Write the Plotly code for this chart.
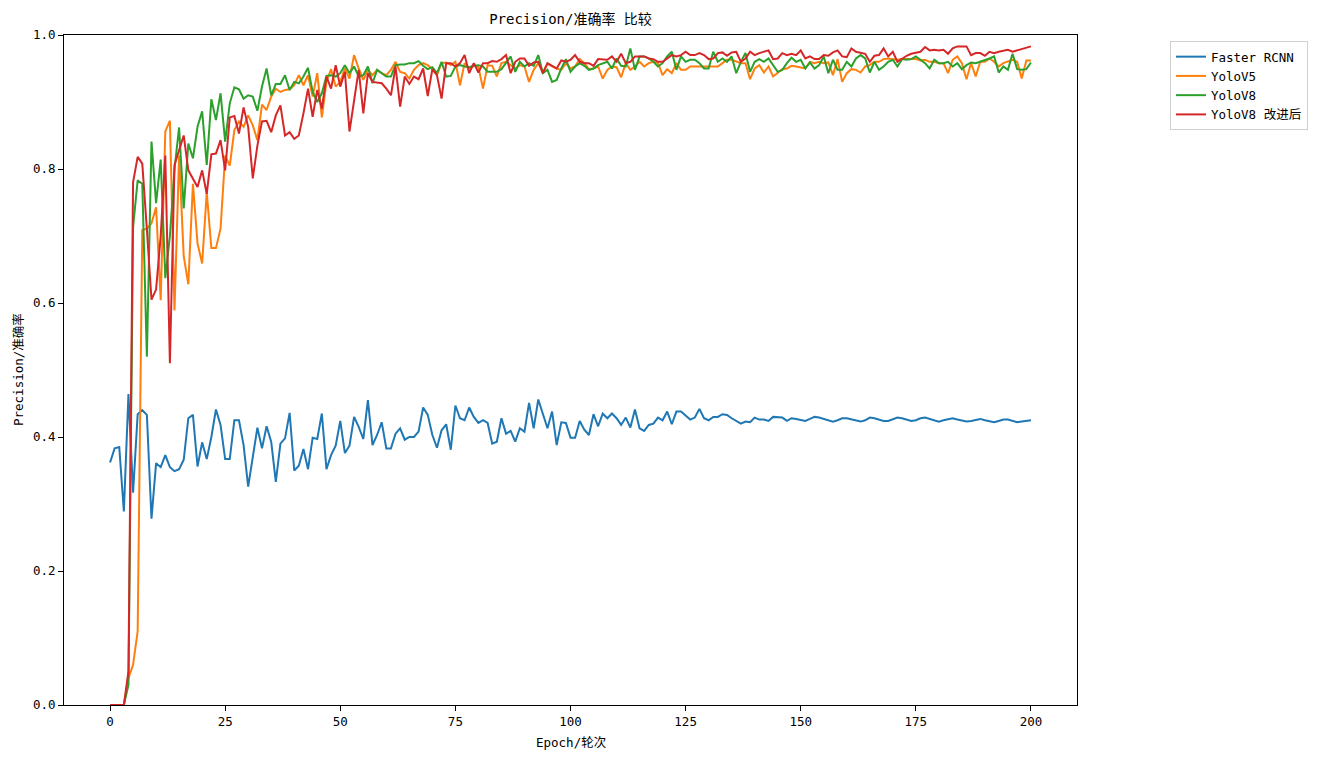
import plotly.graph_objects as go

epochs = list(range(201))

faster_rcnn = [
    0.362, 0.383, 0.385, 0.289, 0.464, 0.317, 0.434, 0.440, 0.433, 0.278,
    0.361, 0.355, 0.373, 0.355, 0.349, 0.352, 0.366, 0.428, 0.433, 0.356,
    0.392, 0.367, 0.400, 0.441, 0.418, 0.367, 0.367, 0.425, 0.425, 0.388,
    0.326, 0.370, 0.414, 0.383, 0.416, 0.393, 0.333, 0.390, 0.398, 0.436,
    0.350, 0.357, 0.382, 0.352, 0.399, 0.397, 0.435, 0.352, 0.373, 0.387,
    0.424, 0.376, 0.387, 0.430, 0.415, 0.397, 0.455, 0.388, 0.403, 0.422,
    0.383, 0.383, 0.405, 0.413, 0.396, 0.400, 0.400, 0.408, 0.444, 0.433,
    0.403, 0.384, 0.410, 0.419, 0.381, 0.447, 0.428, 0.425, 0.444, 0.430,
    0.421, 0.425, 0.421, 0.390, 0.393, 0.428, 0.405, 0.409, 0.393, 0.413,
    0.408, 0.451, 0.413, 0.456, 0.433, 0.413, 0.438, 0.388, 0.422, 0.421,
    0.399, 0.399, 0.424, 0.411, 0.403, 0.434, 0.416, 0.435, 0.428, 0.435,
    0.428, 0.418, 0.429, 0.414, 0.441, 0.413, 0.409, 0.418, 0.420, 0.429,
    0.425, 0.438, 0.419, 0.438, 0.438, 0.432, 0.426, 0.429, 0.442, 0.428,
    0.425, 0.430, 0.430, 0.434, 0.433, 0.428, 0.424, 0.420, 0.423, 0.422,
    0.429, 0.426, 0.426, 0.424, 0.430, 0.429, 0.429, 0.424, 0.428, 0.427,
    0.426, 0.424, 0.427, 0.430, 0.429, 0.427, 0.425, 0.423, 0.425, 0.428,
    0.428, 0.426, 0.424, 0.423, 0.425, 0.429, 0.428, 0.426, 0.424, 0.424,
    0.427, 0.429, 0.428, 0.426, 0.424, 0.425, 0.428, 0.429, 0.427, 0.425,
    0.423, 0.425, 0.427, 0.428, 0.426, 0.424, 0.423, 0.424, 0.426, 0.427,
    0.425, 0.423, 0.422, 0.424, 0.426, 0.426, 0.424, 0.422, 0.423, 0.424,
    0.425,
]

yolov5 = [
    0.0, 0.0, 0.0, 0.0, 0.04, 0.06, 0.11, 0.709, 0.711, 0.719,
    0.743, 0.604, 0.856, 0.872, 0.589, 0.82, 0.67, 0.628, 0.778, 0.689,
    0.659, 0.765, 0.682, 0.682, 0.711, 0.82, 0.805, 0.858, 0.871, 0.863,
    0.880, 0.865, 0.843, 0.896, 0.888, 0.908, 0.920, 0.915, 0.918, 0.919,
    0.925, 0.940, 0.925, 0.940, 0.908, 0.943, 0.877, 0.930, 0.949, 0.923,
    0.930, 0.950, 0.935, 0.970, 0.950, 0.933, 0.948, 0.940, 0.948, 0.943,
    0.940, 0.948, 0.960, 0.945, 0.943, 0.935, 0.948, 0.955, 0.958, 0.955,
    0.949, 0.940, 0.958, 0.959, 0.955, 0.960, 0.925, 0.958, 0.950, 0.954,
    0.952, 0.920, 0.955, 0.954, 0.938, 0.958, 0.960, 0.955, 0.950, 0.955,
    0.953, 0.930, 0.948, 0.958, 0.944, 0.957, 0.953, 0.950, 0.948, 0.958,
    0.950, 0.953, 0.964, 0.958, 0.949, 0.950, 0.953, 0.935, 0.948, 0.953,
    0.952, 0.937, 0.958, 0.948, 0.953, 0.960, 0.953, 0.958, 0.960, 0.958,
    0.940, 0.949, 0.943, 0.958, 0.948, 0.948, 0.953, 0.953, 0.952, 0.952,
    0.953, 0.953, 0.953, 0.958, 0.963, 0.963, 0.960, 0.958, 0.958, 0.934,
    0.950, 0.955, 0.944, 0.953, 0.938, 0.944, 0.949, 0.950, 0.954, 0.953,
    0.952, 0.950, 0.960, 0.958, 0.960, 0.958, 0.959, 0.940, 0.964, 0.930,
    0.943, 0.949, 0.948, 0.944, 0.953, 0.955, 0.960, 0.960, 0.964, 0.965,
    0.964, 0.963, 0.964, 0.964, 0.963, 0.964, 0.962, 0.963, 0.960, 0.960,
    0.958, 0.958, 0.943, 0.963, 0.968, 0.958, 0.934, 0.958, 0.938, 0.960,
    0.960, 0.965, 0.960, 0.953, 0.958, 0.960, 0.963, 0.960, 0.935, 0.962,
    0.962,
]

yolov8 = [
    0.0, 0.0, 0.0, 0.0, 0.03, 0.713, 0.783, 0.778, 0.52, 0.841,
    0.749, 0.814, 0.637, 0.70, 0.80, 0.862, 0.741, 0.838, 0.816, 0.863,
    0.886, 0.806, 0.904, 0.873, 0.913, 0.841, 0.898, 0.922, 0.919, 0.905,
    0.910, 0.908, 0.887, 0.923, 0.950, 0.910, 0.927, 0.927, 0.940, 0.918,
    0.930, 0.928, 0.938, 0.951, 0.915, 0.900, 0.913, 0.939, 0.940, 0.938,
    0.943, 0.955, 0.943, 0.953, 0.938, 0.940, 0.953, 0.928, 0.948, 0.943,
    0.938, 0.938, 0.955, 0.956, 0.956, 0.958, 0.958, 0.961, 0.954, 0.949,
    0.952, 0.943, 0.960, 0.938, 0.939, 0.953, 0.955, 0.953, 0.952, 0.954,
    0.955, 0.953, 0.945, 0.945, 0.945, 0.949, 0.958, 0.968, 0.945, 0.960,
    0.953, 0.958, 0.954, 0.970, 0.943, 0.948, 0.930, 0.933, 0.950, 0.964,
    0.945, 0.953, 0.958, 0.954, 0.948, 0.950, 0.955, 0.958, 0.960, 0.950,
    0.965, 0.954, 0.953, 0.980, 0.948, 0.968, 0.968, 0.965, 0.960, 0.953,
    0.958, 0.968, 0.975, 0.948, 0.968, 0.960, 0.963, 0.963, 0.958, 0.950,
    0.950, 0.975, 0.960, 0.965, 0.960, 0.968, 0.943, 0.960, 0.973, 0.945,
    0.960, 0.964, 0.960, 0.965, 0.955, 0.945, 0.948, 0.958, 0.966, 0.960,
    0.963, 0.950, 0.959, 0.950, 0.955, 0.968, 0.943, 0.963, 0.948, 0.948,
    0.960, 0.953, 0.965, 0.970, 0.965, 0.944, 0.960, 0.948, 0.953, 0.960,
    0.963, 0.953, 0.964, 0.963, 0.964, 0.968, 0.963, 0.958, 0.950, 0.963,
    0.958, 0.958, 0.960, 0.953, 0.958, 0.949, 0.955, 0.959, 0.958, 0.960,
    0.962, 0.965, 0.968, 0.944, 0.953, 0.948, 0.972, 0.949, 0.948, 0.949,
    0.959,
]

yolov8_improved = [
    0.0, 0.0, 0.0, 0.0, 0.05, 0.78, 0.818, 0.808, 0.71, 0.605,
    0.62, 0.70, 0.82, 0.51, 0.806, 0.83, 0.85, 0.798, 0.786, 0.773,
    0.798, 0.763, 0.822, 0.823, 0.843, 0.798, 0.877, 0.879, 0.853, 0.892,
    0.863, 0.786, 0.835, 0.871, 0.872, 0.855, 0.880, 0.895, 0.850, 0.855,
    0.845, 0.850, 0.883, 0.920, 0.878, 0.918, 0.890, 0.938, 0.920, 0.955,
    0.923, 0.945, 0.856, 0.903, 0.948, 0.883, 0.943, 0.930, 0.929, 0.928,
    0.920, 0.910, 0.953, 0.893, 0.938, 0.927, 0.938, 0.934, 0.950, 0.909,
    0.949, 0.940, 0.905, 0.958, 0.958, 0.953, 0.958, 0.970, 0.943, 0.958,
    0.944, 0.958, 0.958, 0.961, 0.960, 0.964, 0.970, 0.943, 0.960, 0.965,
    0.965, 0.954, 0.959, 0.960, 0.943, 0.958, 0.954, 0.950, 0.962, 0.960,
    0.963, 0.970, 0.960, 0.958, 0.958, 0.954, 0.964, 0.964, 0.963, 0.968,
    0.960, 0.972, 0.958, 0.960, 0.968, 0.968, 0.968, 0.965, 0.964, 0.960,
    0.960, 0.965, 0.970, 0.968, 0.970, 0.975, 0.970, 0.970, 0.973, 0.970,
    0.964, 0.965, 0.973, 0.974, 0.969, 0.974, 0.975, 0.960, 0.965, 0.975,
    0.970, 0.973, 0.975, 0.977, 0.964, 0.965, 0.973, 0.970, 0.972, 0.970,
    0.977, 0.965, 0.968, 0.964, 0.964, 0.970, 0.969, 0.974, 0.977, 0.968,
    0.967, 0.980, 0.975, 0.974, 0.972, 0.960, 0.969, 0.970, 0.980, 0.968,
    0.975, 0.960, 0.965, 0.969, 0.972, 0.973, 0.975, 0.982, 0.977, 0.978,
    0.977, 0.978, 0.972, 0.980, 0.983, 0.983, 0.983, 0.970, 0.973, 0.973,
    0.969, 0.975, 0.973, 0.975, 0.977, 0.978, 0.975, 0.977, 0.979, 0.982,
    0.983,
]

series_names = ["Faster RCNN", "YoloV5", "YoloV8", "YoloV8 改进后"]
series_colors = ["#1f77b4", "#ff7f0e", "#2ca02c", "#d62728"]
series_values = [faster_rcnn, yolov5, yolov8, yolov8_improved]

x_ticks = [0, 25, 50, 75, 100, 125, 150, 175, 200]
y_ticks = [0.0, 0.2, 0.4, 0.6, 0.8, 1.0]

FONT = "DejaVu Sans Mono, Noto Sans CJK SC, sans-serif"

fig = go.Figure()
for name, color, vals in zip(series_names, series_colors, series_values):
    fig.add_trace(go.Scatter(x=epochs, y=vals, mode="lines", name=name,
                             line=dict(color=color, width=2)))

axis_common = dict(showgrid=False, zeroline=False, showline=True, linecolor="black",
                   linewidth=1, mirror=True, ticks="outside", ticklen=5, tickwidth=1,
                   tickcolor="black", tickfont=dict(family=FONT, size=12.5, color="black"))

fig.update_layout(
    width=1341, height=760,
    margin=dict(l=64, r=264, t=35, b=55, autoexpand=False),
    plot_bgcolor="white", paper_bgcolor="white",
    font=dict(family=FONT, size=12.5, color="black"),
    xaxis=dict(range=[-10, 210], tickvals=x_ticks, ticktext=[str(t) for t in x_ticks], **axis_common),
    yaxis=dict(range=[0, 1.0], tickvals=y_ticks, ticktext=[f"{t:.1f}" for t in y_ticks], **axis_common),
    title=dict(text="Precision/准确率 比较", x=0.5, xref="paper", xanchor="center",
               y=1 - 19 / 760, yref="container", yanchor="middle",
               font=dict(family=FONT, size=14, color="black")),
    legend=dict(x=1.0918, y=0.991, xanchor="left", yanchor="top", xref="paper", yref="paper",
                bgcolor="white", bordercolor="#d0d0d0", borderwidth=1,
                font=dict(family=FONT, size=12.5, color="black"), itemwidth=30,
                tracegroupgap=0),
    showlegend=True,
    annotations=[
        dict(text="Epoch/轮次", x=0.5, y=(705 - 742) / 670, xref="paper", yref="paper",
             xanchor="center", yanchor="middle", showarrow=False,
             font=dict(family=FONT, size=12.5, color="black")),
        dict(text="Precision/准确率", x=(18 - 64) / 1013, y=0.5, xref="paper", yref="paper",
             xanchor="center", yanchor="middle", showarrow=False, textangle=-90,
             font=dict(family=FONT, size=12.5, color="black")),
    ],
)

fig.write_html("out.html")
